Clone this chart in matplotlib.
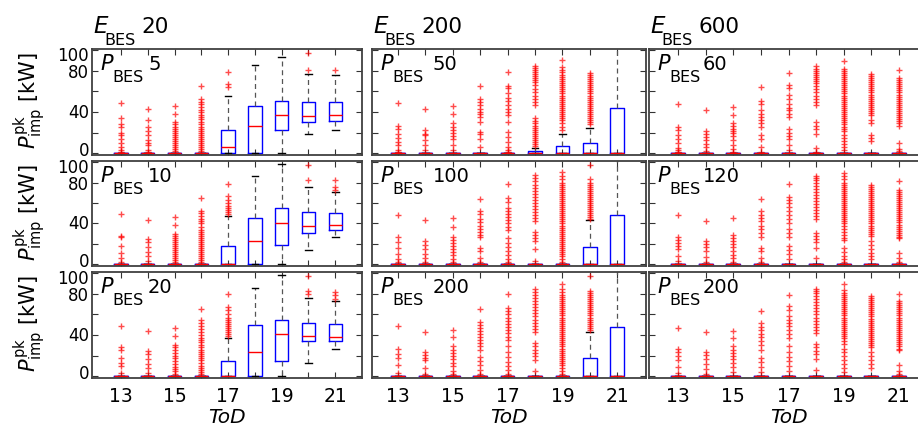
import matplotlib
matplotlib.use("Agg")
import matplotlib.pyplot as plt

plt.rcParams['font.family'] = 'DejaVu Sans'
plt.rcParams['mathtext.fontset'] = 'dejavusans'

# hours of the day on the x axis
hours = [13, 14, 15, 16, 17, 18, 19, 20, 21]
hour_labels = ['13', '', '15', '', '17', '', '19', '', '21']
y_ticks = [0, 20, 40, 60, 80, 100]
y_label_values = [0, 40, 80, 100]
y_label_shift = [2.5, 0, -1, -3.5]   # points, nudged inwards at the panel edges

e_values = ['20', '200', '600']
p_values = [['5', '10', '20'], ['50', '100', '200'], ['60', '120', '200']]

zeros = [0, 0, 0, 0, 0, 0, 0, 0, 0]

# E_BES = 20
e20_p5_q1 = [0, 0, 0, 0, 0, 0, 23, 30, 31]
e20_p5_med = [0, 0, 0, 0, 6, 27, 37, 36, 37]
e20_p5_q3 = [0, 0, 0, 0, 23, 46, 51, 50, 50]
e20_p5_lo = [0, 0, 0, 0, 0, 0, 0, 19, 23]
e20_p5_hi = [0, 0, 0, 0, 56, 86, 93, 77, 76]
e20_p5_fliers = [
    [49, 34, 28, 26, 20, 18, 14, 10, 6, 3, 1.5],
    [43, 32, 26, 22, 18, 13, 10, 8, 3, 1.5],
    [46, 38, 30, 28, 26, 24, 22, 20, 18, 16, 14, 12, 10, 8, 6, 4, 2],
    [65, 53, 50, 48, 45, 42, 40, 37, 35, 33, 30, 28, 26, 24, 22, 20, 18, 16,
     14, 12, 10, 8, 6, 4, 2],
    [79, 67, 64],
    [],
    [],
    [97, 81],
    [81],
]

e20_p10_q1 = [0, 0, 0, 0, 0, 0, 19, 31, 34]
e20_p10_med = [0, 0, 0, 0, 0, 23, 40, 38, 39]
e20_p10_q3 = [0, 0, 0, 0, 18, 45, 55, 51, 50]
e20_p10_lo = [0, 0, 0, 0, 0, 0, 0, 14, 27]
e20_p10_hi = [0, 0, 0, 0, 47, 86, 98, 76, 71]
e20_p10_fliers = [
    [49, 28, 27, 18, 11, 6, 2],
    [43, 25, 22, 17, 12, 8, 3],
    [46, 39, 30, 28, 26, 24, 22, 20, 18, 16, 14, 12, 10, 8, 6, 4, 2],
    [65, 52, 50, 47, 44, 42, 40, 37, 34, 32, 30, 28, 26, 24, 22, 20, 18, 16,
     14, 12, 10, 8, 6, 4, 2],
    [79, 67, 63, 60, 57, 55, 53, 51, 49],
    [],
    [],
    [97, 82],
    [82, 76, 73],
]

e20_p20_q1 = [0, 0, 0, 0, 0, 0, 15, 34, 34]
e20_p20_med = [0, 0, 0, 0, 0, 24, 41, 39, 38]
e20_p20_q3 = [0, 0, 0, 0, 15, 50, 55, 52, 51]
e20_p20_lo = [0, 0, 0, 0, 0, 0, 0, 13, 27]
e20_p20_hi = [0, 0, 0, 0, 37, 86, 98, 76, 73]
e20_p20_fliers = [
    [49, 28, 26, 18, 13, 10, 3],
    [44, 25, 22, 17, 12, 8, 3],
    [47, 39, 30, 28, 26, 23, 20, 18, 15, 12, 9, 7, 5, 2],
    [65, 55, 52, 49, 46, 43, 40, 37, 35, 33, 30, 28, 26, 24, 22, 20, 18, 16,
     13, 10, 8, 6, 4, 2],
    [80, 67, 64, 60, 57, 55, 53, 51, 49, 47, 45, 43, 41, 39],
    [],
    [],
    [97, 83, 80],
    [82, 79, 75],
]

# E_BES = 200
e200_p50_q3 = [0, 0, 0, 0, 0, 2, 7, 10, 44]
e200_p50_hi = [0, 0, 0, 0, 0, 5, 19, 25, 110]
e200_p50_fliers = [
    [49, 27, 24, 19, 15, 11, 8, 3, 1],
    [43, 23, 19, 18, 13, 8, 3],
    [46, 38, 29, 26, 23, 20, 17, 14, 8, 3],
    [65, 53, 50, 47, 43, 40, 38, 35, 30, 21, 19, 14, 6],
    [79, 65, 63, 58, 54, 51, 47, 43, 40, 37, 30, 21, 16, 11, 6, 3, 1],
    [85, 83, 81, 79, 77, 75, 73, 71, 69, 66, 62, 59, 56, 53, 50, 47, 34, 31,
     29, 27, 25, 23, 21, 19, 17, 15, 13, 11, 9, 7],
    [90, 84, 81, 79, 76, 74, 72, 70, 68, 66, 64, 62, 60, 58, 56, 54, 52, 50,
     48, 46, 44, 42, 40, 38, 36, 34, 32, 29, 26, 23],
    [78, 76, 74, 72, 70, 68, 66, 64, 62, 60, 58, 56, 54, 52, 50, 48, 46, 44,
     42, 40, 38, 36, 34, 32, 30, 28],
    [],
]

e200_p100_q3 = [0, 0, 0, 0, 0, 0, 0, 17, 48]
e200_p100_hi = [0, 0, 0, 0, 0, 0, 0, 43, 110]
e200_p100_fliers = [
    [48, 27, 22, 16, 10, 5, 2],
    [43, 23, 19, 15, 10, 6, 2],
    [45, 37, 27, 24, 21, 18, 15, 12, 9, 5, 2],
    [64, 52, 49, 44, 41, 38, 35, 32, 29, 27, 16, 13, 6, 2],
    [79, 65, 61, 55, 52, 49, 46, 43, 40, 37, 34, 26, 21, 17, 13, 9, 5, 2],
    [87, 84, 81, 78, 75, 72, 69, 66, 63, 60, 57, 54, 51, 48, 45, 42, 32, 29,
     26, 23, 15, 3],
    [90, 86, 83, 80, 78, 76, 74, 72, 70, 68, 66, 64, 62, 60, 58, 56, 54, 52,
     50, 48, 46, 44, 42, 40, 38, 36, 34, 32, 30, 28, 26, 24, 22, 20, 18, 16,
     14, 12, 10, 8, 5, 2],
    [97, 83, 80, 78, 76, 74, 72, 70, 68, 66, 64, 62, 60, 58, 56, 54, 52, 50,
     48, 46, 44],
    [],
]

e200_p200_q3 = [0, 0, 0, 0, 0, 0, 0, 18, 48]
e200_p200_hi = [0, 0, 0, 0, 0, 0, 0, 43, 110]
e200_p200_fliers = [
    [49, 27, 22, 18, 11, 3],
    [43, 24, 21, 18, 16, 8, 2],
    [45, 38, 29, 26, 23, 20, 17, 13, 10, 5, 2],
    [65, 53, 50, 47, 44, 41, 38, 35, 32, 29, 26, 19, 15, 11, 6, 2],
    [80, 66, 63, 60, 57, 54, 51, 48, 45, 42, 38, 35, 29, 24, 19, 14, 10, 6, 2],
    [85, 82, 79, 76, 73, 70, 67, 64, 61, 58, 55, 52, 49, 46, 43, 32, 29, 26,
     23, 20, 16, 5],
    [89, 85, 82, 79, 77, 75, 73, 71, 69, 67, 65, 63, 61, 59, 57, 55, 53, 51,
     49, 47, 45, 43, 41, 39, 37, 35, 33, 31, 29, 27, 25, 23, 21, 19, 17, 15,
     13, 11, 8, 5, 2],
    [97, 83, 81, 79, 77, 75, 73, 71, 69, 67, 65, 63, 61, 59, 57, 55, 53, 51,
     49, 47, 45],
    [],
]

# E_BES = 600
e600_p60_fliers = [
    [48, 26, 23, 18, 14, 10, 5, 3, 1],
    [42, 22, 19, 16, 13, 9, 6, 2],
    [45, 37, 29, 27, 24, 22, 20, 17, 13, 8, 4, 1],
    [64, 51, 48, 42, 38, 35, 32, 29, 26, 18, 14, 6, 1],
    [78, 66, 63, 57, 53, 48, 44, 42, 38, 35, 24, 20, 17, 14, 8, 3],
    [85, 82, 80, 78, 76, 74, 72, 70, 68, 65, 62, 59, 56, 53, 50, 47, 30, 27,
     24, 19, 5, 1],
    [89, 82, 80, 78, 76, 74, 72, 70, 68, 66, 64, 62, 60, 58, 56, 54, 52, 50,
     48, 46, 44, 42, 40, 38, 36, 34, 32, 30, 28, 26, 24, 22, 18, 15, 12, 9,
     6, 3],
    [77, 75, 73, 71, 69, 67, 65, 63, 61, 59, 57, 55, 53, 51, 49, 47, 45, 43,
     41, 39, 37, 32, 29, 18, 15, 12],
    [81, 73, 71, 69, 67, 65, 63, 61, 59, 57, 55, 53, 51, 49, 47, 45, 43, 41,
     39, 37, 35, 33, 31, 29, 27, 10, 4, 2],
]

e600_p120_fliers = [
    [48, 27, 24, 21, 18, 15, 8, 3],
    [42, 23, 20, 17, 13, 7, 2],
    [45, 29, 26, 23, 20, 17, 13, 9, 6, 2],
    [64, 52, 48, 45, 42, 38, 35, 31, 27, 16, 13, 6, 2],
    [79, 66, 63, 60, 56, 52, 48, 44, 40, 35, 31, 27, 18, 14, 10, 5],
    [86, 84, 82, 80, 77, 74, 71, 68, 65, 62, 59, 56, 53, 50, 47, 44, 31, 28,
     25, 22, 16, 6],
    [89, 86, 83, 80, 78, 76, 74, 72, 70, 68, 66, 64, 62, 60, 58, 56, 54, 52,
     50, 48, 46, 44, 42, 40, 38, 35, 32, 29, 26, 24, 16, 12, 8, 5, 2],
    [78, 76, 74, 72, 70, 68, 66, 64, 62, 60, 58, 56, 54, 52, 50, 48, 46, 44,
     42, 40, 38, 36, 34, 32, 30, 28, 23, 19, 15, 11, 8, 5],
    [81, 73, 71, 69, 67, 65, 63, 61, 59, 57, 55, 53, 51, 49, 47, 45, 43, 41,
     39, 37, 35, 33, 31, 29, 27, 26, 11, 6, 2],
]

e600_p200_fliers = [
    [47, 27, 24, 20, 16, 9, 3],
    [43, 24, 21, 17, 12, 7, 2],
    [44, 37, 29, 26, 23, 20, 17, 13, 9, 4],
    [63, 52, 48, 45, 41, 38, 34, 30, 26, 18, 14, 9, 4],
    [79, 68, 64, 58, 55, 52, 49, 45, 41, 37, 29, 24, 19, 15, 10, 5],
    [85, 83, 81, 78, 75, 72, 69, 66, 63, 60, 57, 54, 51, 48, 45, 42, 31, 28,
     25, 22, 17, 6],
    [89, 84, 81, 79, 77, 75, 73, 71, 69, 67, 65, 63, 61, 59, 57, 55, 53, 51,
     49, 47, 45, 43, 41, 39, 37, 34, 31, 27, 24, 20, 16, 12, 8, 4],
    [78, 76, 74, 72, 70, 68, 66, 64, 62, 60, 58, 56, 54, 52, 50, 48, 46, 44,
     42, 40, 38, 36, 34, 32, 30, 28, 24, 20, 16, 12, 8],
    [80, 73, 71, 69, 67, 65, 63, 61, 59, 57, 55, 53, 51, 49, 47, 45, 43, 41,
     39, 37, 35, 33, 31, 29, 27, 26, 11, 5, 2],
]

panels = [
    # (row, col, q1, med, q3, lo, hi, fliers)
    (0, 0, e20_p5_q1, e20_p5_med, e20_p5_q3, e20_p5_lo, e20_p5_hi, e20_p5_fliers),
    (1, 0, e20_p10_q1, e20_p10_med, e20_p10_q3, e20_p10_lo, e20_p10_hi, e20_p10_fliers),
    (2, 0, e20_p20_q1, e20_p20_med, e20_p20_q3, e20_p20_lo, e20_p20_hi, e20_p20_fliers),
    (0, 1, zeros, zeros, e200_p50_q3, zeros, e200_p50_hi, e200_p50_fliers),
    (1, 1, zeros, zeros, e200_p100_q3, zeros, e200_p100_hi, e200_p100_fliers),
    (2, 1, zeros, zeros, e200_p200_q3, zeros, e200_p200_hi, e200_p200_fliers),
    (0, 2, zeros, zeros, zeros, zeros, zeros, e600_p60_fliers),
    (1, 2, zeros, zeros, zeros, zeros, zeros, e600_p120_fliers),
    (2, 2, zeros, zeros, zeros, zeros, zeros, e600_p200_fliers),
]

W, H = 918, 427
fig = plt.figure(figsize=(W / 100, H / 100), dpi=100)

# panel edges in pixels
col_x = [(92, 362), (372, 646), (649, 928)]
row_y = [(50, 156), (162, 267), (273, 379)]
col_xlim = [(11.92, 22.0), (12.05, 22.05), (11.95, 22.05)]
val_dx = [48, 53, 46]


def fx(x):
    return x / W


def fy(y):
    return 1 - y / H


def sub_label(x, y, main, sub, val, size, subsize, dx_sub, dx_val, dy_sub):
    fig.text(fx(x), fy(y), main, fontsize=size, style='italic', va='baseline')
    fig.text(fx(x + dx_sub), fy(y + dy_sub), sub, fontsize=subsize, va='baseline')
    fig.text(fx(x + dx_val), fy(y), val, fontsize=size - 1, va='baseline')


for row, col, q1, med, q3, lo, hi, fliers in panels:
    x0, x1 = col_x[col]
    y0, y1 = row_y[row]
    ax = fig.add_axes([fx(x0), fy(y1), (x1 - x0) / W, (y1 - y0) / H])

    stats = []
    for a, m, b, l, h, f in zip(q1, med, q3, lo, hi, fliers):
        stats.append(dict(q1=a, med=m, q3=b, whislo=l, whishi=h, fliers=f))

    ax.bxp(stats, positions=hours, widths=0.5, capwidths=0.25,
           manage_ticks=False,
           boxprops=dict(color='blue', lw=1.0),
           medianprops=dict(color='red', lw=1.0),
           whiskerprops=dict(color='#555555', lw=0.9, ls=(0, (4, 3))),
           capprops=dict(color='black', lw=1.0),
           flierprops=dict(marker='+', markeredgecolor='red', markersize=4.5,
                           mew=1.0, alpha=0.7, ls='none'))

    ax.set_xlim(*col_xlim[col])
    ax.set_ylim(-1.5, 101)
    ax.set_xticks(hours)
    ax.set_yticks(y_ticks)
    ax.set_yticklabels([])
    ax.tick_params(direction='in', length=4, top=True, right=True,
                   color='#333333', labelsize=13.5, pad=6)
    if row == 2:
        ax.set_xticklabels(hour_labels)
        ax.set_xlabel('ToD', fontsize=14.5, style='italic', labelpad=1)
    else:
        ax.set_xticklabels([])
    if col == 0:
        for v, dy in zip(y_label_values, y_label_shift):
            ax.annotate(str(v), xy=(0, v), xycoords=('axes fraction', 'data'),
                        xytext=(-2, dy), textcoords='offset points',
                        ha='right', va='center', fontsize=12)
        fig.text(fx(30), fy((y0 + y1) / 2 - 2),
                 r'$P^{\mathrm{pk}}_{\mathrm{imp}}$ [kW]',
                 rotation=90, fontsize=15, ha='center', va='center')
    for s in ax.spines.values():
        s.set_color('#404040')
        s.set_linewidth(1.3)

    # P_BES label in the top left corner
    sub_label(x0 + 8, y0 + 20, 'P', 'BES', p_values[col][row], 15, 11.5,
              12, val_dx[col], 12)

# E_BES titles above each column
for col in range(3):
    x0 = col_x[col][0]
    sub_label(x0 + 1, 33, 'E', 'BES', e_values[col], 16.5, 11.5, 11, 48, 12)

fig.savefig('out.png', dpi=100)
